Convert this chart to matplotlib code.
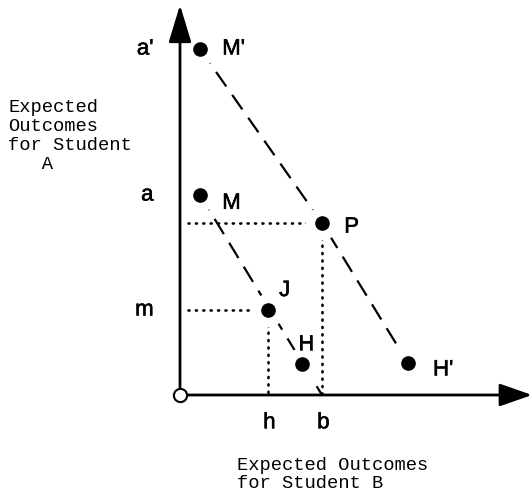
import matplotlib
matplotlib.use("Agg")
import matplotlib.pyplot as plt
import matplotlib.patheffects as pe

# points of the diagram (x = outcome for B, y = outcome for A)
names = ["M'", "M", "P", "J", "H", "H'"]
xs = [2.0, 2.0, 14.2, 8.8, 12.2, 22.8]
ys = [34.6, 20.0, 17.2, 8.5, 3.1, 3.2]

# tick marks on the axes
y_ticks = [34.6, 20.0, 8.5]
y_tick_labels = ["a'", "a", "m"]
x_ticks = [8.8, 14.2]
x_tick_labels = ["h", "b"]

# label offsets (points) for each named point
label_off = {"M'": (16, 0), "M": (16, -6), "P": (16, -3),
             "J": (8, 14), "H": (3, 14), "H'": (18, -5)}

pt = dict(zip(names, zip(xs, ys)))

fig = plt.figure(figsize=(5.32, 4.96), dpi=100)
ax = fig.add_axes([0, 0, 1, 1])
ax.set_xlim(-18.0, 35.2)
ax.set_ylim(-10.1, 39.5)
ax.axis("off")

dash_kw = dict(color="black", lw=1.6, dashes=(8.0, 4.6), zorder=1)
dot_kw = dict(color="black", lw=1.9, ls=(0, (0.4, 2.4)),
              dash_capstyle="round", zorder=1)

# line through M, J, H down to b
ax.plot([pt["M"][0], x_ticks[1]], [pt["M"][1], 0], **dash_kw)
# line M' - P - H'
ax.plot([pt["M'"][0], pt["P"][0], pt["H'"][0]],
        [pt["M'"][1], pt["P"][1], pt["H'"][1]], **dash_kw)

# dotted guides to P and J
gap = 0.8
for key in ["P", "J"]:
    px, py = pt[key]
    ax.plot([gap, px], [py, py], **dot_kw)
    ax.plot([px, px], [py, 0], **dot_kw)

# white halo then black dot
ax.plot(xs, ys, "o", ms=23, color="white", zorder=2, ls="none")
ax.plot(xs, ys, "o", ms=9.5, color="black", zorder=3, ls="none")

# axes with arrow heads
ax.annotate("", xy=(0, 39.0), xytext=(0, 0),
            arrowprops=dict(arrowstyle="-|>,head_length=2.3,head_width=0.7",
                            mutation_scale=10, lw=2, color="black",
                            shrinkA=0, shrinkB=0), zorder=4)
ax.annotate("", xy=(35.2, 0), xytext=(0, 0),
            arrowprops=dict(arrowstyle="-|>,head_length=2.0,head_width=0.7",
                            mutation_scale=10, lw=2, color="black",
                            shrinkA=0, shrinkB=0), zorder=4)
ax.plot([0], [0], "o", ms=9.5, mfc="white", mec="black", mew=1.5, zorder=5)

sans = "Liberation Sans"
mono = "Liberation Mono"
heavy = [pe.withStroke(linewidth=0.4, foreground="black")]

for n in names:
    dx, dy = label_off[n]
    ax.annotate(n, pt[n], xytext=(dx, dy), textcoords="offset points",
                ha="left" if dx > 5 else "center", va="center",
                fontsize=16, family=sans, zorder=6, path_effects=heavy)

for v, lab in zip(y_ticks, y_tick_labels):
    ax.annotate(lab, (0, v), xytext=(-19, 0), textcoords="offset points",
                ha="right", va="center", fontsize=16, family=sans,
                path_effects=heavy)
for v, lab in zip(x_ticks, x_tick_labels):
    ax.annotate(lab, (v, 0), xytext=(1, -20), textcoords="offset points",
                ha="center", va="center", fontsize=16, family=sans,
                path_effects=heavy)

ax.text(-17.2, 29.6, "Expected\nOutcomes\nfor Student\n   A",
        ha="left", va="top", fontsize=13.5, family=mono, linespacing=1.15)
ax.text(5.7, -6.2, "Expected Outcomes\nfor Student B",
        ha="left", va="top", fontsize=13.5, family=mono, linespacing=1.05)

fig.savefig("out.png", dpi=100, facecolor="white")
